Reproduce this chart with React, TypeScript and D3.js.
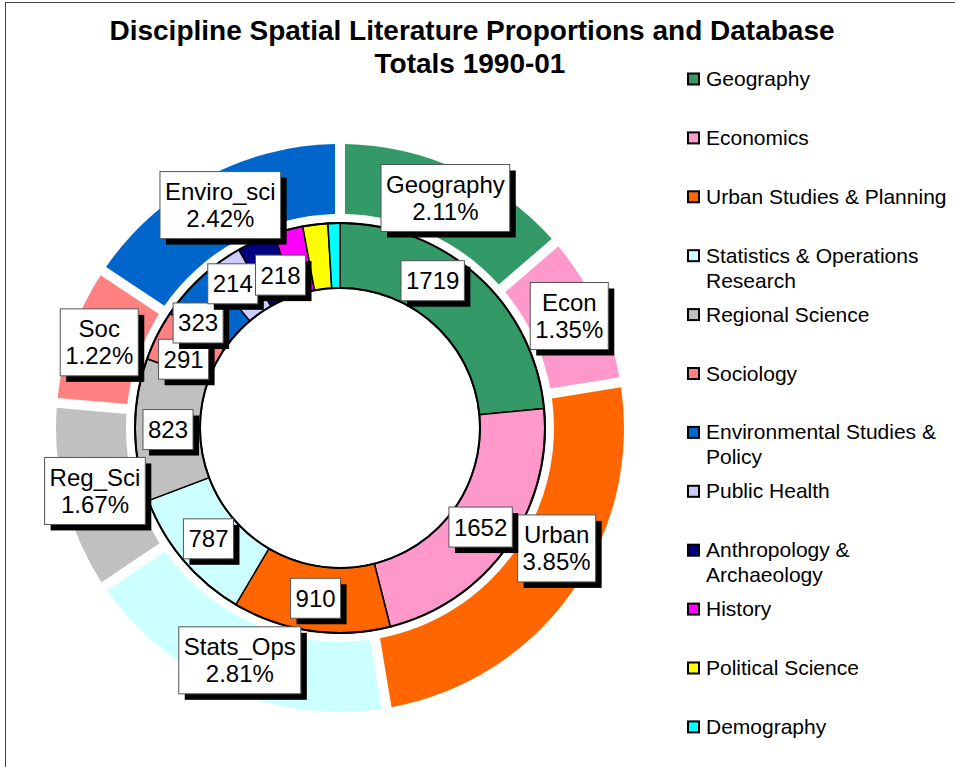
import React, { useEffect, useRef } from 'react';
import * as d3 from 'd3';

// legend names, wrapped the way the original legend wraps them
const legendNames = [
  ['Geography'],
  ['Economics'],
  ['Urban Studies & Planning'],
  ['Statistics & Operations', 'Research'],
  ['Regional Science'],
  ['Sociology'],
  ['Environmental Studies &', 'Policy'],
  ['Public Health'],
  ['Anthropology &', 'Archaeology'],
  ['History'],
  ['Political Science'],
  ['Demography'],
];
const shortNames = ['Geography', 'Econ', 'Urban', 'Stats_Ops', 'Reg_Sci', 'Soc', 'Enviro_sci', '', '', '', '', ''];
// outer ring: share of spatial literature (%)
const proportions = [2.11, 1.35, 3.85, 2.81, 1.67, 1.22, 2.42, 0, 0, 0, 0, 0];
// inner ring: database totals
const totals = [1719, 1652, 910, 787, 823, 291, 323, 214, 218, 170, 144, 69];
const colors = [
  '#339966', '#FF99CC', '#FF6600', '#CCFFFF', '#C0C0C0', '#FF8080',
  '#0066CC', '#CCCCFF', '#000080', '#FF00FF', '#FFFF00', '#00FFFF',
];
// totals that get a label in the inner ring
const labelledTotals = 9;

// manual label nudges (Excel labels dragged by hand)
const innerNudge: [number, number][] = [[-23, -20], [0, 0], [0, 0], [0, 0], [0, 0], [-3, 9], [-14, 10], [-9, -3], [11, 4]];
const outerNudge: [number, number][] = [[0, 0], [0, -5], [11, -27], [0, 0], [0, 0], [-2, -2], [0, 0]];

const W = 955;
const H = 767;
const cx = 340;
const cy = 428;
const font = 'Arial, "Liberation Sans", Helvetica, sans-serif';

export default function App() {
  const ref = useRef<SVGSVGElement>(null);

  useEffect(() => {
    const svg = d3.select(ref.current);
    svg.selectAll('*').remove();

    svg.append('rect')
      .attr('x', 5.5).attr('y', 2.5)
      .attr('width', W).attr('height', H)
      .attr('fill', 'white').attr('stroke', '#444').attr('stroke-width', 1);

    // title
    const title = svg.append('text')
      .attr('text-anchor', 'middle')
      .attr('font-family', font)
      .attr('font-weight', 'bold')
      .attr('font-size', 28);
    title.append('tspan').attr('x', 472).attr('y', 40).text('Discipline Spatial Literature Proportions and Database');
    title.append('tspan').attr('x', 470).attr('y', 73).text('Totals 1990-01');

    const g = svg.append('g').attr('transform', `translate(${cx},${cy})`);

    const pie = d3.pie<number>().sort(null).value((d) => d);

    // outer exploded ring
    const outerArc = d3.arc<d3.PieArcDatum<number>>()
      .innerRadius(214)
      .outerRadius(284)
      .padRadius(284)
      .padAngle(10 / 284);
    const outerArcs = pie(proportions);
    g.selectAll('.outer')
      .data(outerArcs.filter((d) => d.value > 0))
      .enter()
      .append('path')
      .attr('class', 'outer')
      .attr('d', outerArc)
      .attr('fill', (d) => colors[d.index]);

    // inner ring
    const innerArc = d3.arc<d3.PieArcDatum<number>>().innerRadius(140).outerRadius(205);
    const innerArcs = pie(totals);
    g.selectAll('.inner')
      .data(innerArcs)
      .enter()
      .append('path')
      .attr('class', 'inner')
      .attr('d', innerArc)
      .attr('fill', (d) => colors[d.index])
      .attr('stroke', 'black')
      .attr('stroke-width', 1.5);
    g.append('circle').attr('r', 205).attr('fill', 'none').attr('stroke', 'black').attr('stroke-width', 2);
    g.append('circle').attr('r', 140).attr('fill', 'none').attr('stroke', 'black').attr('stroke-width', 2);

    const labelBox = (x: number, y: number, lines: string[]) => {
      const lg = g.append('g');
      const lh = 27;
      const txt = lg.append('text')
        .attr('text-anchor', 'middle')
        .attr('font-family', font)
        .attr('font-size', 24)
        .attr('fill', 'black');
      lines.forEach((l, i) => {
        txt.append('tspan')
          .attr('x', x)
          .attr('y', y + (i - (lines.length - 1) / 2) * lh + 8.5)
          .text(l);
      });
      const tw = d3.max(txt.selectAll<SVGTSpanElement, unknown>('tspan').nodes(), (n) => n.getComputedTextLength()) || 0;
      const bw = tw + 10;
      const bh = lines.length * lh + 13;
      lg.insert('rect', 'text')
        .attr('x', x - bw / 2 + 6).attr('y', y - bh / 2 + 6)
        .attr('width', bw).attr('height', bh)
        .attr('fill', 'black');
      lg.insert('rect', 'text')
        .attr('x', x - bw / 2).attr('y', y - bh / 2)
        .attr('width', bw).attr('height', bh)
        .attr('fill', 'white').attr('stroke', '#555').attr('stroke-width', 1);
    };

    const outerLabelArc = d3.arc<d3.PieArcDatum<number>>().innerRadius(253).outerRadius(253);
    outerArcs.forEach((d, i) => {
      if (!shortNames[i] || d.value === 0) return;
      const [x, y] = outerLabelArc.centroid(d);
      const [nx, ny] = outerNudge[i] || [0, 0];
      labelBox(x + nx, y + ny, [shortNames[i], `${d.value.toFixed(2)}%`]);
    });

    const innerLabelArc = d3.arc<d3.PieArcDatum<number>>().innerRadius(172).outerRadius(172);
    innerArcs.slice(0, labelledTotals).forEach((d, i) => {
      const [x, y] = innerLabelArc.centroid(d);
      const [nx, ny] = innerNudge[i] || [0, 0];
      labelBox(x + nx, y + ny, [String(d.value)]);
    });

    // legend
    const legend = svg.append('g').attr('font-family', font).attr('font-size', 21);
    legendNames.forEach((lines, i) => {
      const base = 86 + i * 58.9;
      legend.append('rect')
        .attr('x', 688).attr('y', base - 12.5)
        .attr('width', 11).attr('height', 11)
        .attr('fill', colors[i]).attr('stroke', 'black').attr('stroke-width', 2);
      const t = legend.append('text').attr('fill', 'black');
      lines.forEach((l, j) => {
        t.append('tspan').attr('x', 706).attr('y', base + j * 25).text(l);
      });
    });
  }, []);

  return (
    <svg
      ref={ref}
      width={W}
      height={H}
      style={{ position: 'absolute', left: 0, top: 0, background: 'white' }}
    />
  );
}
